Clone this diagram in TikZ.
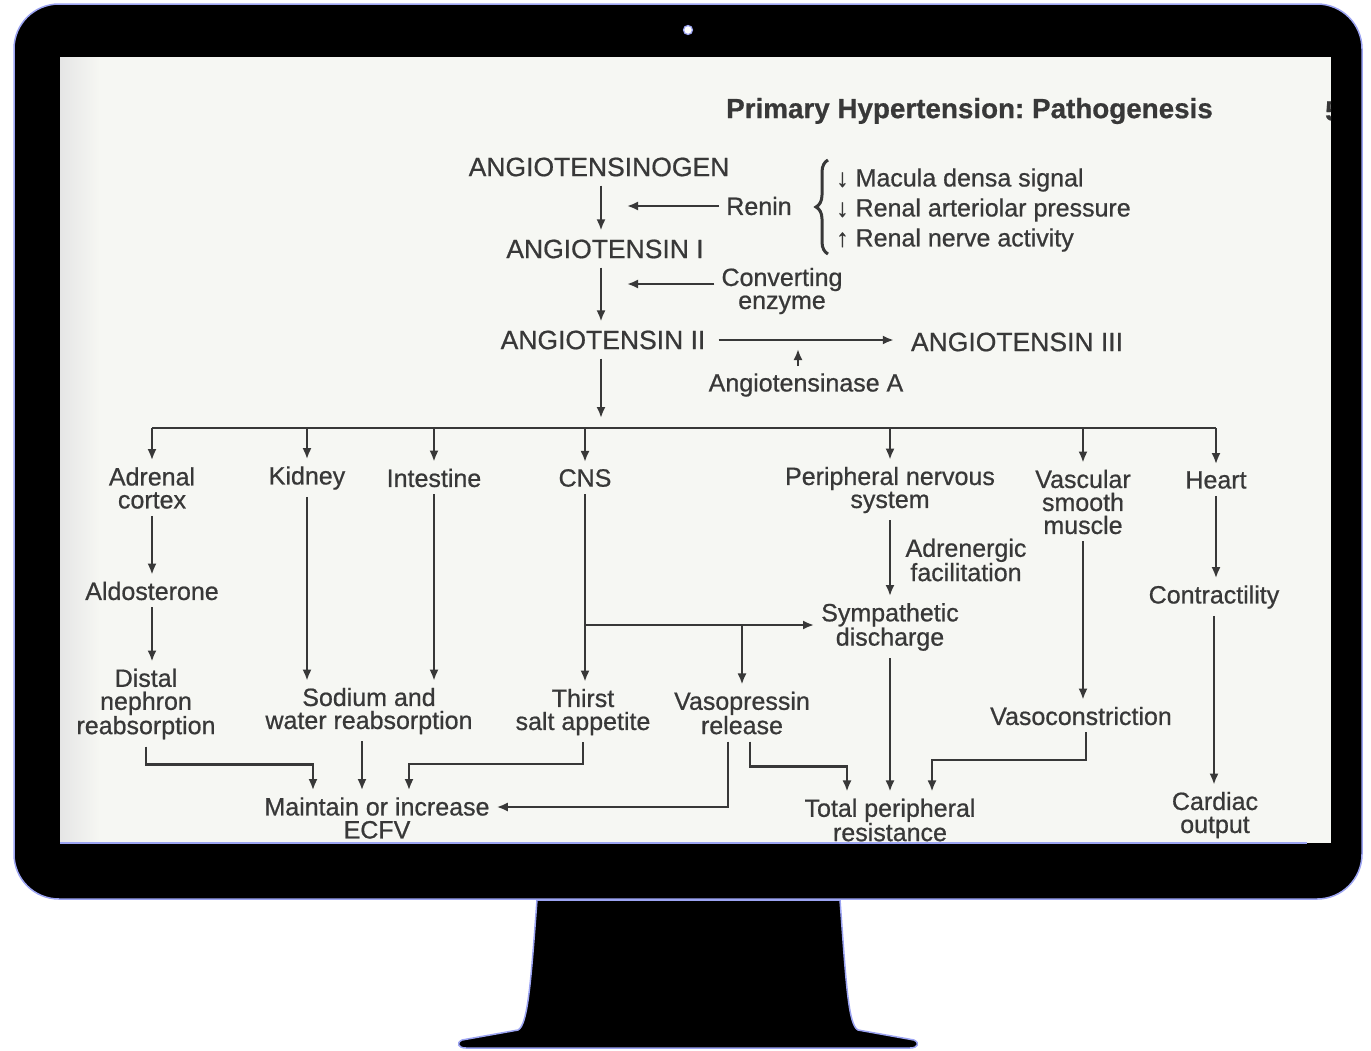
\documentclass[tikz,border=0pt]{standalone}
\usepackage{fontspec}
\setmainfont{Liberation Sans}[FakeBold=0.7]
\usetikzlibrary{arrows.meta,calc,positioning,decorations.pathreplacing}
\definecolor{ink}{HTML}{383838}
\definecolor{paper}{HTML}{F6F7F3}
\definecolor{rim}{HTML}{9CA4F2}
\frenchspacing

\begin{document}
\begin{tikzpicture}[x=1pt,y=-1pt,
plainnode/.style={font=\fontsize{25}{23}\selectfont, text=ink, align=center, inner sep=7pt},
capsnode/.style={font=\fontsize{26.5}{26}\selectfont, text=ink, inner sep=9pt},
flowarrow/.style={draw=ink, line width=2.1pt, -{Latex[length=11pt,width=9pt]}},
flowline/.style={draw=ink, line width=2.1pt},
]
\useasboundingbox (0,0) rectangle (1371,1050);
\fill[white] (0,0) rectangle (1371,1050);

%Monitor
\draw[rim, line width=1.5pt, fill=black] (537,900) -- (840,900)
  .. controls (846,980) and (848,1025) .. (858,1030) -- (914,1040)
  .. controls (920,1043) and (918,1048) .. (910,1048) -- (466,1048)
  .. controls (458,1048) and (456,1043) .. (462,1040) -- (518,1030)
  .. controls (528,1025) and (531,980) .. (537,900) -- cycle;
\draw[rim, line width=1.5pt, fill=black, rounded corners=45pt] (14,4) rectangle (1362,899);
\draw[rim, line width=1.2pt, fill=white] (688,30) circle (4.5pt);
\fill[paper] (60,57) rectangle (1331,843);
\shade[left color=black!10, right color=paper] (60,57) rectangle (100,843);
\draw[rim, line width=1.5pt] (60,843) -- (1307,843);

\begin{scope}
\clip (60,57) rectangle (1331,843);
\node[anchor=west, font=\fontsize{27.8}{28}\selectfont\bfseries, text=ink, inner sep=0pt] (title) at (726,111) {Primary Hypertension: Pathogenesis};
\node[anchor=west, font=\fontsize{27.8}{28}\selectfont\bfseries, text=ink, inner sep=0pt] (pagenum) at (1325,111) {5};
\end{scope}

%Nodes
\node[capsnode] (ang0) at (599,167) {ANGIOTENSINOGEN};
\node[capsnode] (ang1) at (605,249) {ANGIOTENSIN I};
\node[capsnode] (ang2) at (603,340) {ANGIOTENSIN II};
\node[capsnode] (ang3) at (1017,342) {ANGIOTENSIN III};
\node[plainnode] (renin) at (759,206) {Renin};
\node[plainnode] (conv) at (782,291) {Converting\\enzyme};
\node[plainnode] (ase) at (806,385) {Angiotensinase A};
\node[plainnode, anchor=west, inner sep=0pt] (f1) at (836,180) {↓ Macula densa signal};
\node[plainnode, anchor=west, inner sep=0pt] (f2) at (836,210) {↓ Renal arteriolar pressure};
\node[plainnode, anchor=west, inner sep=0pt] (f3) at (836,240) {↑ Renal nerve activity};

\node[plainnode] (adrenal) at (152,488) {Adrenal\\cortex};
\node[plainnode] (kidney) at (307,478) {Kidney};
\node[plainnode] (intestine) at (434,478) {Intestine};
\node[plainnode] (cns) at (585,478) {CNS};
\node[plainnode] (pns) at (890,490) {Peripheral nervous\\system};
\node[plainnode] (vsm) at (1083,502) {Vascular\\smooth\\muscle};
\node[plainnode] (heart) at (1216,480) {Heart};

\node[plainnode] (aldo) at (152,591) {Aldosterone};
\node[plainnode] (distal) at (146,704) {Distal\\nephron\\reabsorption};
\node[plainnode] (sodium) at (369,711) {Sodium and\\water reabsorption};
\node[plainnode] (thirst) at (583,712) {Thirst\\salt appetite};
\node[plainnode] (vaso) at (742,713) {Vasopressin\\release};
\node[plainnode] (symp) at (890,627) {Sympathetic\\discharge};
\node[plainnode] (adren) at (966,560) {Adrenergic\\facilitation};
\node[plainnode] (vasoc) at (1081,716) {Vasoconstriction};
\node[plainnode] (contr) at (1214,597) {Contractility};
\node[plainnode] (cardiac) at (1215,815) {Cardiac\\output};
\node[plainnode] (maintain) at (377,818) {Maintain or increase\\ECFV};
\node[plainnode] (tpr) at (890,820) {Total peripheral\\resistance};

\coordinate (bus) at (601,428);
\coordinate (cnsbr) at (cns.south |- 0,625);

%Connectors
\draw[flowarrow] ([xshift=2pt]ang0.south) -- ([xshift=2pt]ang0.south |- ang1.north);
\draw[flowarrow] ([xshift=-4pt]ang1.south) -- ([xshift=-4pt]ang1.south |- ang2.north);
\draw[flowarrow, shorten >=10pt] ([xshift=-2pt]ang2.south) -- ([xshift=-2pt]ang2.south |- bus);
\draw[flowarrow, shorten >=28pt] (renin.west) -- (renin.west -| ang0);
\draw[flowarrow, shorten >=22pt] ([yshift=7pt]conv.west) -- ([yshift=7pt]conv.west -| ang1);
\draw[flowarrow, shorten <=4pt, shorten >=8pt] (ang2.east) -- (ang2.east -| ang3.west);
\draw[flowarrow, shorten >=9pt] ([xshift=-8pt]ase.north) -- ([xshift=-8pt]ase.north |- ang2.east);
\draw[ink, line width=3pt, decorate, decoration={brace, amplitude=12pt}] (828,254) -- (828,160);

\draw[flowline] (adrenal.north |- bus) -- (heart.north |- bus);
\foreach \n in {adrenal, kidney, intestine, cns, pns, vsm, heart}
  \draw[flowarrow] (\n.north |- bus) -- (\n.north);

\draw[flowarrow] (adrenal.south) -- (adrenal.south |- aldo.north);
\draw[flowarrow] (aldo.south) -- (aldo.south |- distal.north);
\draw[flowarrow] (kidney.south) -- (kidney.south |- sodium.north);
\draw[flowarrow] (intestine.south) -- (intestine.south |- sodium.north);
\draw[flowarrow] (cns.south) -- (cns.south |- thirst.north);
\draw[flowarrow] (cnsbr) -- (cnsbr -| symp.west);
\draw[flowarrow] (vaso.north |- cnsbr) -- (vaso.north);
\draw[flowarrow] (pns.south) -- (pns.south |- symp.north);
\draw[flowarrow] (vsm.south) -- (vsm.south |- vasoc.north);
\draw[flowarrow] (heart.south) -- (heart.south |- contr.north);
\draw[flowarrow] (contr.south) -- (contr.south |- cardiac.north);

\draw[flowarrow] (distal.south) -- ++(0,18) -| ([xshift=-64pt]maintain.north);
\draw[flowarrow] ([xshift=-7pt]sodium.south) -- ([xshift=-7pt]sodium.south |- maintain.north);
\draw[flowarrow] (thirst.south) -- ++(0,22) -| ([xshift=32pt]maintain.north);
\draw[flowarrow] ([xshift=-14pt]vaso.south) |- ([yshift=11pt]maintain.east);
\draw[flowarrow] ([xshift=8pt]vaso.south) -- ++(0,25) -| ([xshift=-43pt]tpr.north);
\draw[flowarrow] (symp.south) -- (symp.south |- tpr.north);
\draw[flowarrow] ([xshift=5pt]vasoc.south) -- ++(0,28) -| ([xshift=42pt]tpr.north);
\end{tikzpicture}
\end{document}
